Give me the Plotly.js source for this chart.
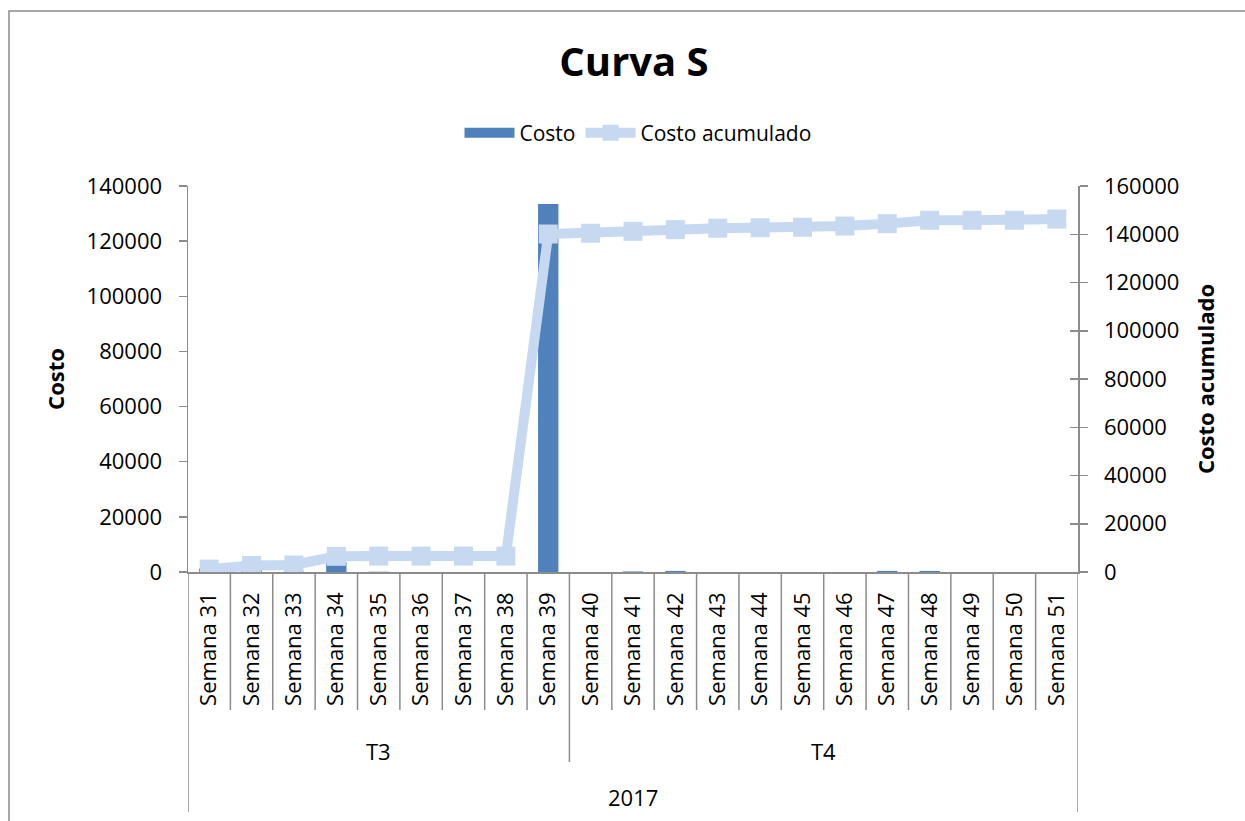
<!DOCTYPE html>
<html>
<head>
<meta charset="utf-8">
<script src="https://cdn.plot.ly/plotly-3.0.1.min.js"></script>
<style>html,body{margin:0;padding:0;background:#fff;}#chart{width:1245px;height:821px;}</style>
</head>
<body>
<div id="chart"></div>
<script>
const weeks = ["Semana 31","Semana 32","Semana 33","Semana 34","Semana 35","Semana 36","Semana 37","Semana 38","Semana 39","Semana 40","Semana 41","Semana 42","Semana 43","Semana 44","Semana 45","Semana 46","Semana 47","Semana 48","Semana 49","Semana 50","Semana 51"];
const quarters = ["T3","T4"];
const quarterWeeks = [9, 12];
const yearLabel = "2017";
const costo = [1200,1500,200,3600,100,0,0,0,133500,0,200,400,0,0,0,0,400,400,0,0,0];
const costoAcum = [1200,2700,2900,6500,6600,6600,6600,6600,140100,140400,141200,141900,142500,142700,142900,143400,144400,145800,145800,145800,146300];

const FONT = "Open Sans, Lato, sans-serif";
const GRAY = "#8c8c8c";
const BAR = "#4F81BD", LINE = "#C6D9F1";
const plotH = 386, plotW = 890, L = 188, T = 186;
const py = p => (T + plotH - p) / plotH;  // pixel y -> paper
const px = p => (p - L) / plotW;

const xIdx = weeks.map((w, i) => i);

const traces = [
  {type: "bar", name: "Costo", x: xIdx, y: costo, marker: {color: BAR}, yaxis: "y", showlegend: false},
  {type: "scatter", mode: "lines", name: "Costo", x: [null], y: [null], yaxis: "y", line: {color: BAR, width: 10}, showlegend: true, hoverinfo: "skip"},
  {type: "scatter", mode: "lines+markers", name: "Costo acumulado", x: xIdx, y: costoAcum, yaxis: "y2",
   line: {color: LINE, width: 10}, marker: {symbol: "square", size: 19, color: LINE}}
];

const shapes = [];
const annotations = [];
for (let i = 1; i < weeks.length; i++) {
  shapes.push({type: "line", xref: "x", yref: "paper", x0: i - 0.5, x1: i - 0.5, y0: 0, y1: py(710), line: {color: GRAY, width: 1.5}});
}
let start = 0;
quarters.forEach((q, k) => {
  const end = start + quarterWeeks[k];
  if (k > 0) shapes.push({type: "line", xref: "x", yref: "paper", x0: start - 0.5, x1: start - 0.5, y0: py(710), y1: py(762), line: {color: GRAY, width: 1.5}});
  annotations.push({xref: "x", yref: "paper", x: (start + end - 1) / 2, y: py(751), text: q, showarrow: false, font: {family: FONT, size: 22, color: "#000"}, yanchor: "middle"});
  start = end;
});
[-0.5, weeks.length - 0.5].forEach(xv => shapes.push({type: "line", xref: "x", yref: "paper", x0: xv, x1: xv, y0: 0, y1: py(812), line: {color: GRAY, width: 1.5}}));
annotations.push({xref: "x", yref: "paper", x: (weeks.length - 1) / 2, y: py(797), text: yearLabel, showarrow: false, font: {family: FONT, size: 22, color: "#000"}, yanchor: "middle"});
shapes.push({type: "rect", xref: "paper", yref: "paper", x0: px(9), x1: px(1260), y0: py(840), y1: py(11), line: {color: "#8a8a8a", width: 1.5}, layer: "below"});

const layout = {
  width: 1245, height: 821,
  margin: {l: L, r: 1245 - L - plotW, t: T, b: 821 - T - plotH, pad: 0},
  paper_bgcolor: "#fff", plot_bgcolor: "#fff",
  showlegend: true,
  bargap: 0.52,
  title: {text: "<b>Curva S</b>", font: {family: FONT, size: 40, color: "#000"}, x: 634 / 1245, xanchor: "center", y: 1 - 62 / 821, yanchor: "middle"},
  legend: {orientation: "h", x: px(638), xanchor: "center", y: py(133), yanchor: "middle", font: {family: FONT, size: 21, color: "#000"}, itemwidth: 50, tracegroupgap: 0, bgcolor: "rgba(0,0,0,0)"},
  xaxis: {type: "linear", range: [-0.5, weeks.length - 0.5], tickmode: "array", tickvals: xIdx, ticktext: weeks, tickangle: -90,
          ticks: "", showgrid: false, zeroline: false, showline: true, linecolor: GRAY, linewidth: 1.5,
          tickfont: {family: FONT, size: 22, color: "#000"}, ticklabelstandoff: 10, fixedrange: true},
  yaxis: {range: [0, 140000], dtick: 20000, tickformat: "d", showgrid: false, zeroline: false, showline: true, linecolor: GRAY, linewidth: 1.5,
          ticks: "outside", ticklen: 8, tickcolor: GRAY, tickwidth: 1.5, tickfont: {family: FONT, size: 22, color: "#000"}, ticklabelstandoff: 12,
          title: {text: "<b>Costo</b>", font: {family: FONT, size: 22, color: "#000"}, standoff: 16}},
  yaxis2: {range: [0, 160000], dtick: 20000, tickformat: "d", overlaying: "y", side: "right", showgrid: false, zeroline: false, showline: true, linecolor: GRAY, linewidth: 1.5,
          ticks: "outside", ticklen: 8, tickcolor: GRAY, tickwidth: 1.5, tickfont: {family: FONT, size: 22, color: "#000"}, ticklabelstandoff: 12,
          title: {text: "<b>Costo acumulado</b>", font: {family: FONT, size: 22, color: "#000"}, standoff: 20}},
  yaxis3: {range: [0, 160000], dtick: 20000, overlaying: "y", side: "right", showgrid: false, zeroline: false, showline: false,
          ticks: "inside", ticklen: 8, tickcolor: GRAY, tickwidth: 1.5, showticklabels: false},
  shapes: shapes,
  annotations: annotations
};

traces.push({type: "scatter", x: [0], y: [0], yaxis: "y3", mode: "markers", marker: {opacity: 0}, showlegend: false, hoverinfo: "skip"});

Plotly.newPlot("chart", traces, layout, {staticPlot: true, displayModeBar: false});
</script>
</body>
</html>
